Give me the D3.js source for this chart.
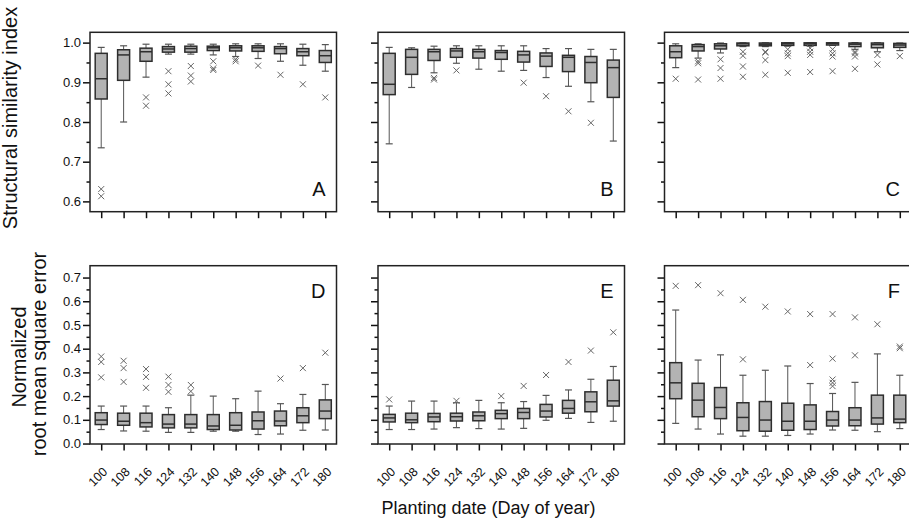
<!DOCTYPE html>
<html lang="en">
<head>
<meta charset="utf-8">
<title>SSIM and NRMSE by planting date</title>
<script src="https://cdn.jsdelivr.net/npm/d3@7"></script>
<style>
  body { margin: 0; background: #fff; }
  svg { font-family: "Liberation Sans", Arial, sans-serif; }
</style>
</head>
<body>
<script>
// planting dates (day of year)
var days = [100, 108, 116, 124, 132, 140, 148, 156, 164, 172, 180];
var ssimTicks = [0.6, 0.7, 0.8, 0.9, 1.0];
var ssimMinor = [0.65, 0.75, 0.85, 0.95];
var nrmseTicks = [0, 0.1, 0.2, 0.3, 0.4, 0.5, 0.6, 0.7];
var nrmseMinor = [0.05, 0.15, 0.25, 0.35, 0.45, 0.55, 0.65];

// box stats per date: [whisker low, q1, median, q3, whisker high]
var statsA = [[0.735,0.858,0.909,0.973,0.988],[0.80,0.905,0.969,0.982,0.992],[0.913,0.953,0.977,0.986,0.996],[0.971,0.976,0.984,0.990,0.996],[0.971,0.976,0.985,0.991,0.996],[0.969,0.980,0.987,0.991,0.996],[0.965,0.979,0.987,0.992,0.997],[0.960,0.978,0.987,0.992,0.997],[0.953,0.972,0.985,0.990,0.997],[0.943,0.967,0.977,0.985,0.996],[0.928,0.950,0.967,0.980,0.995]];
var outA = [[0.631,0.613],[],[0.862,0.841],[0.928,0.895,0.872],[0.941,0.917,0.902],[0.953,0.935,0.931],[0.958,0.953],[0.942],[0.919],[0.895],[0.862]];

var statsB = [[0.745,0.869,0.895,0.973,0.988],[0.887,0.920,0.963,0.983,0.987],[0.924,0.955,0.977,0.983,0.991],[0.948,0.963,0.979,0.985,0.992],[0.933,0.961,0.977,0.983,0.992],[0.928,0.958,0.975,0.980,0.992],[0.930,0.951,0.969,0.978,0.992],[0.912,0.940,0.966,0.974,0.985],[0.890,0.927,0.963,0.968,0.985],[0.851,0.899,0.950,0.965,0.983],[0.752,0.862,0.937,0.956,0.983]];
var outB = [[],[],[0.911,0.907],[0.930],[],[],[0.899],[0.865],[0.827],[0.798],[]];

var statsC = [[0.937,0.962,0.977,0.992,0.997],[0.961,0.979,0.990,0.995,0.997],[0.974,0.984,0.992,0.997,0.999],[0.990,0.992,0.997,0.999,0.9995],[0.990,0.992,0.996,0.999,0.9995],[0.991,0.993,0.997,0.9995,1.0],[0.991,0.993,0.997,0.9995,1.0],[0.993,0.994,0.998,0.9995,1.0],[0.983,0.990,0.996,0.999,1.0],[0.977,0.987,0.995,0.999,0.9995],[0.980,0.988,0.994,0.998,0.999]];
var outC = [[0.909],[0.953,0.948,0.907],[0.958,0.936,0.909],[0.977,0.967,0.940,0.914],[0.977,0.975,0.956,0.919],[0.983,0.973,0.966,0.924],[0.986,0.977,0.969,0.926],[0.983,0.973,0.965,0.928],[0.977,0.973,0.965,0.934],[0.969,0.945],[0.966]];

var statsD = [[0.059,0.080,0.099,0.130,0.158],[0.053,0.077,0.094,0.128,0.158],[0.052,0.070,0.088,0.128,0.158],[0.047,0.066,0.082,0.122,0.151],[0.047,0.066,0.082,0.122,0.204],[0.052,0.059,0.074,0.122,0.200],[0.052,0.057,0.077,0.130,0.189],[0.038,0.061,0.096,0.133,0.221],[0.040,0.075,0.095,0.137,0.168],[0.056,0.088,0.117,0.151,0.207],[0.057,0.105,0.137,0.184,0.249]];
var outD = [[0.367,0.344,0.279],[0.349,0.318,0.260],[0.314,0.281,0.235],[0.282,0.247,0.218],[0.247,0.220],[],[],[],[0.274],[0.318],[0.383]];

var statsE = [[0.059,0.091,0.108,0.123,0.158],[0.059,0.088,0.100,0.128,0.179],[0.061,0.092,0.112,0.127,0.179],[0.067,0.095,0.113,0.128,0.172],[0.063,0.096,0.117,0.133,0.182],[0.061,0.105,0.126,0.140,0.172],[0.064,0.105,0.131,0.148,0.177],[0.098,0.112,0.137,0.165,0.203],[0.106,0.128,0.148,0.182,0.226],[0.089,0.134,0.176,0.218,0.271],[0.094,0.158,0.180,0.267,0.325]];
var outE = [[0.186],[],[],[0.180],[],[0.200],[0.243],[0.289],[0.344],[0.392],[0.469]];

var statsF = [[0.085,0.189,0.256,0.341,0.563],[0.061,0.113,0.183,0.254,0.352],[0.040,0.105,0.152,0.236,0.374],[0.031,0.054,0.110,0.172,0.288],[0.031,0.052,0.099,0.177,0.309],[0.034,0.056,0.094,0.170,0.327],[0.040,0.059,0.094,0.163,0.253],[0.057,0.074,0.099,0.135,0.211],[0.056,0.075,0.099,0.151,0.258],[0.050,0.082,0.108,0.204,0.378],[0.063,0.088,0.103,0.204,0.288]];
var outF = [[0.665],[0.668],[0.634],[0.606,0.355],[0.577],[0.557],[0.546,0.331],[0.546,0.358,0.270,0.256,0.242],[0.532,0.372],[0.503],[0.409,0.402]];

var w = 909, h = 526;
var panelW = 246.5;
var lefts = [90, 378, 664.5];
var rows = [
  { top: 32.3, bottom: 211.7, domain: [0.574, 1.026], ticks: ssimTicks, minor: ssimMinor },
  { top: 265.7, bottom: 444, domain: [-0.002, 0.75], ticks: nrmseTicks, minor: nrmseMinor }
];
var panels = [
  { row: 0, col: 0, name: "A", stats: statsA, out: outA },
  { row: 0, col: 1, name: "B", stats: statsB, out: outB },
  { row: 0, col: 2, name: "C", stats: statsC, out: outC },
  { row: 1, col: 0, name: "D", stats: statsD, out: outD },
  { row: 1, col: 1, name: "E", stats: statsE, out: outE },
  { row: 1, col: 2, name: "F", stats: statsF, out: outF }
];

var svg = d3.select("body").append("svg")
  .attr("width", w)
  .attr("height", h);

var boxW = 12, capW = 7, xs = 3;

panels.forEach(function(p) {
  var r = rows[p.row];
  var x = d3.scalePoint().domain(days).range([0, panelW]).padding(0.5);
  var y = d3.scaleLinear().domain(r.domain).range([r.bottom - r.top, 0]);
  var ph = r.bottom - r.top;

  var g = svg.append("g")
    .attr("transform", "translate(" + lefts[p.col] + "," + r.top + ")");

  //y axis, major ticks
  var yAxis = d3.axisLeft(y).tickValues(r.ticks).tickSize(7).tickPadding(2)
    .tickFormat(p.col === 0 ? d3.format(".1f") : "");
  var ya = g.append("g").call(yAxis);
  ya.select(".domain").remove();
  ya.selectAll("line").attr("stroke", "#111").attr("stroke-width", 1.5);
  ya.selectAll("text").attr("font-size", "13px").attr("fill", "#111")
    .attr("font-family", "Liberation Sans, Arial, sans-serif");

  //minor ticks
  var ym = g.append("g").call(d3.axisLeft(y).tickValues(r.minor).tickSize(3.5).tickFormat(""));
  ym.select(".domain").remove();
  ym.selectAll("line").attr("stroke", "#111").attr("stroke-width", 1.5);

  //x axis
  var xAxis = d3.axisBottom(x).tickSize(6.5).tickFormat(p.row === 1 ? d3.format("d") : "");
  var xa = g.append("g").attr("transform", "translate(0," + ph + ")").call(xAxis);
  xa.select(".domain").remove();
  xa.selectAll("line").attr("stroke", "#111").attr("stroke-width", 1.5);
  xa.selectAll("text")
    .attr("font-size", "12.5px").attr("fill", "#111")
    .attr("font-family", "Liberation Sans, Arial, sans-serif")
    .attr("text-anchor", "end")
    .attr("x", 0).attr("y", 0).attr("dy", "0")
    .attr("transform", "translate(6.5,28.5) rotate(-45)");

  var boxes = g.append("g").selectAll("g")
    .data(p.stats.map(function(s, i) { return { day: days[i], s: s, out: p.out[i] }; }))
    .enter().append("g")
    .attr("transform", function(d) { return "translate(" + x(d.day) + ",0)"; });

  //whiskers
  boxes.append("line")
    .attr("x1", 0).attr("x2", 0)
    .attr("y1", function(d) { return y(d.s[0]); })
    .attr("y2", function(d) { return y(d.s[4]); })
    .attr("stroke", "#555").attr("stroke-width", 1);
  boxes.selectAll(".cap")
    .data(function(d) { return [d.s[0], d.s[4]]; })
    .enter().append("line")
    .attr("class", "cap")
    .attr("x1", -capW / 2).attr("x2", capW / 2)
    .attr("y1", function(v) { return y(v); })
    .attr("y2", function(v) { return y(v); })
    .attr("stroke", "#555").attr("stroke-width", 1.2);

  //box
  boxes.append("rect")
    .attr("x", -boxW / 2)
    .attr("width", boxW)
    .attr("y", function(d) { return y(d.s[3]); })
    .attr("height", function(d) { return Math.max(1, y(d.s[1]) - y(d.s[3])); })
    .attr("fill", "#b3b3b3")
    .attr("stroke", "#2e2e2e").attr("stroke-width", 1.5);
  boxes.append("line")
    .attr("x1", -boxW / 2).attr("x2", boxW / 2)
    .attr("y1", function(d) { return y(d.s[2]); })
    .attr("y2", function(d) { return y(d.s[2]); })
    .attr("stroke", "#2e2e2e").attr("stroke-width", 1.5);

  //outliers as crosses
  boxes.selectAll(".out")
    .data(function(d) { return d.out; })
    .enter().append("path")
    .attr("class", "out")
    .attr("d", function(v) {
      var cy = y(v);
      return "M" + (-xs) + "," + (cy - xs) + "L" + xs + "," + (cy + xs) +
             "M" + xs + "," + (cy - xs) + "L" + (-xs) + "," + (cy + xs);
    })
    .attr("stroke", "#666").attr("stroke-width", 1).attr("fill", "none");

  //frame
  g.append("rect")
    .attr("width", panelW).attr("height", ph)
    .attr("fill", "none").attr("stroke", "#222").attr("stroke-width", 1.5);

  //panel letter
  g.append("text")
    .attr("x", panelW - 11)
    .attr("y", p.row === 0 ? ph - 15.5 : 32.5)
    .attr("text-anchor", "end")
    .attr("font-size", "20px")
    .attr("fill", "#111")
    .text(p.name);
});

//axis titles
svg.append("text")
  .attr("transform", "translate(16.5,118) rotate(-90)")
  .attr("text-anchor", "middle")
  .attr("font-size", "20px").attr("fill", "#111")
  .text("Structural similarity index");

svg.append("text")
  .attr("transform", "translate(26,357) rotate(-90)")
  .attr("text-anchor", "middle")
  .attr("font-size", "20px").attr("fill", "#111")
  .text("Normalized");

svg.append("text")
  .attr("transform", "translate(46,354) rotate(-90)")
  .attr("text-anchor", "middle")
  .attr("font-size", "20px").attr("fill", "#111")
  .text("root mean square error");

svg.append("text")
  .attr("x", 488.5).attr("y", 514)
  .attr("text-anchor", "middle")
  .attr("font-size", "18px").attr("fill", "#111")
  .text("Planting date (Day of year)");
</script>
</body>
</html>
